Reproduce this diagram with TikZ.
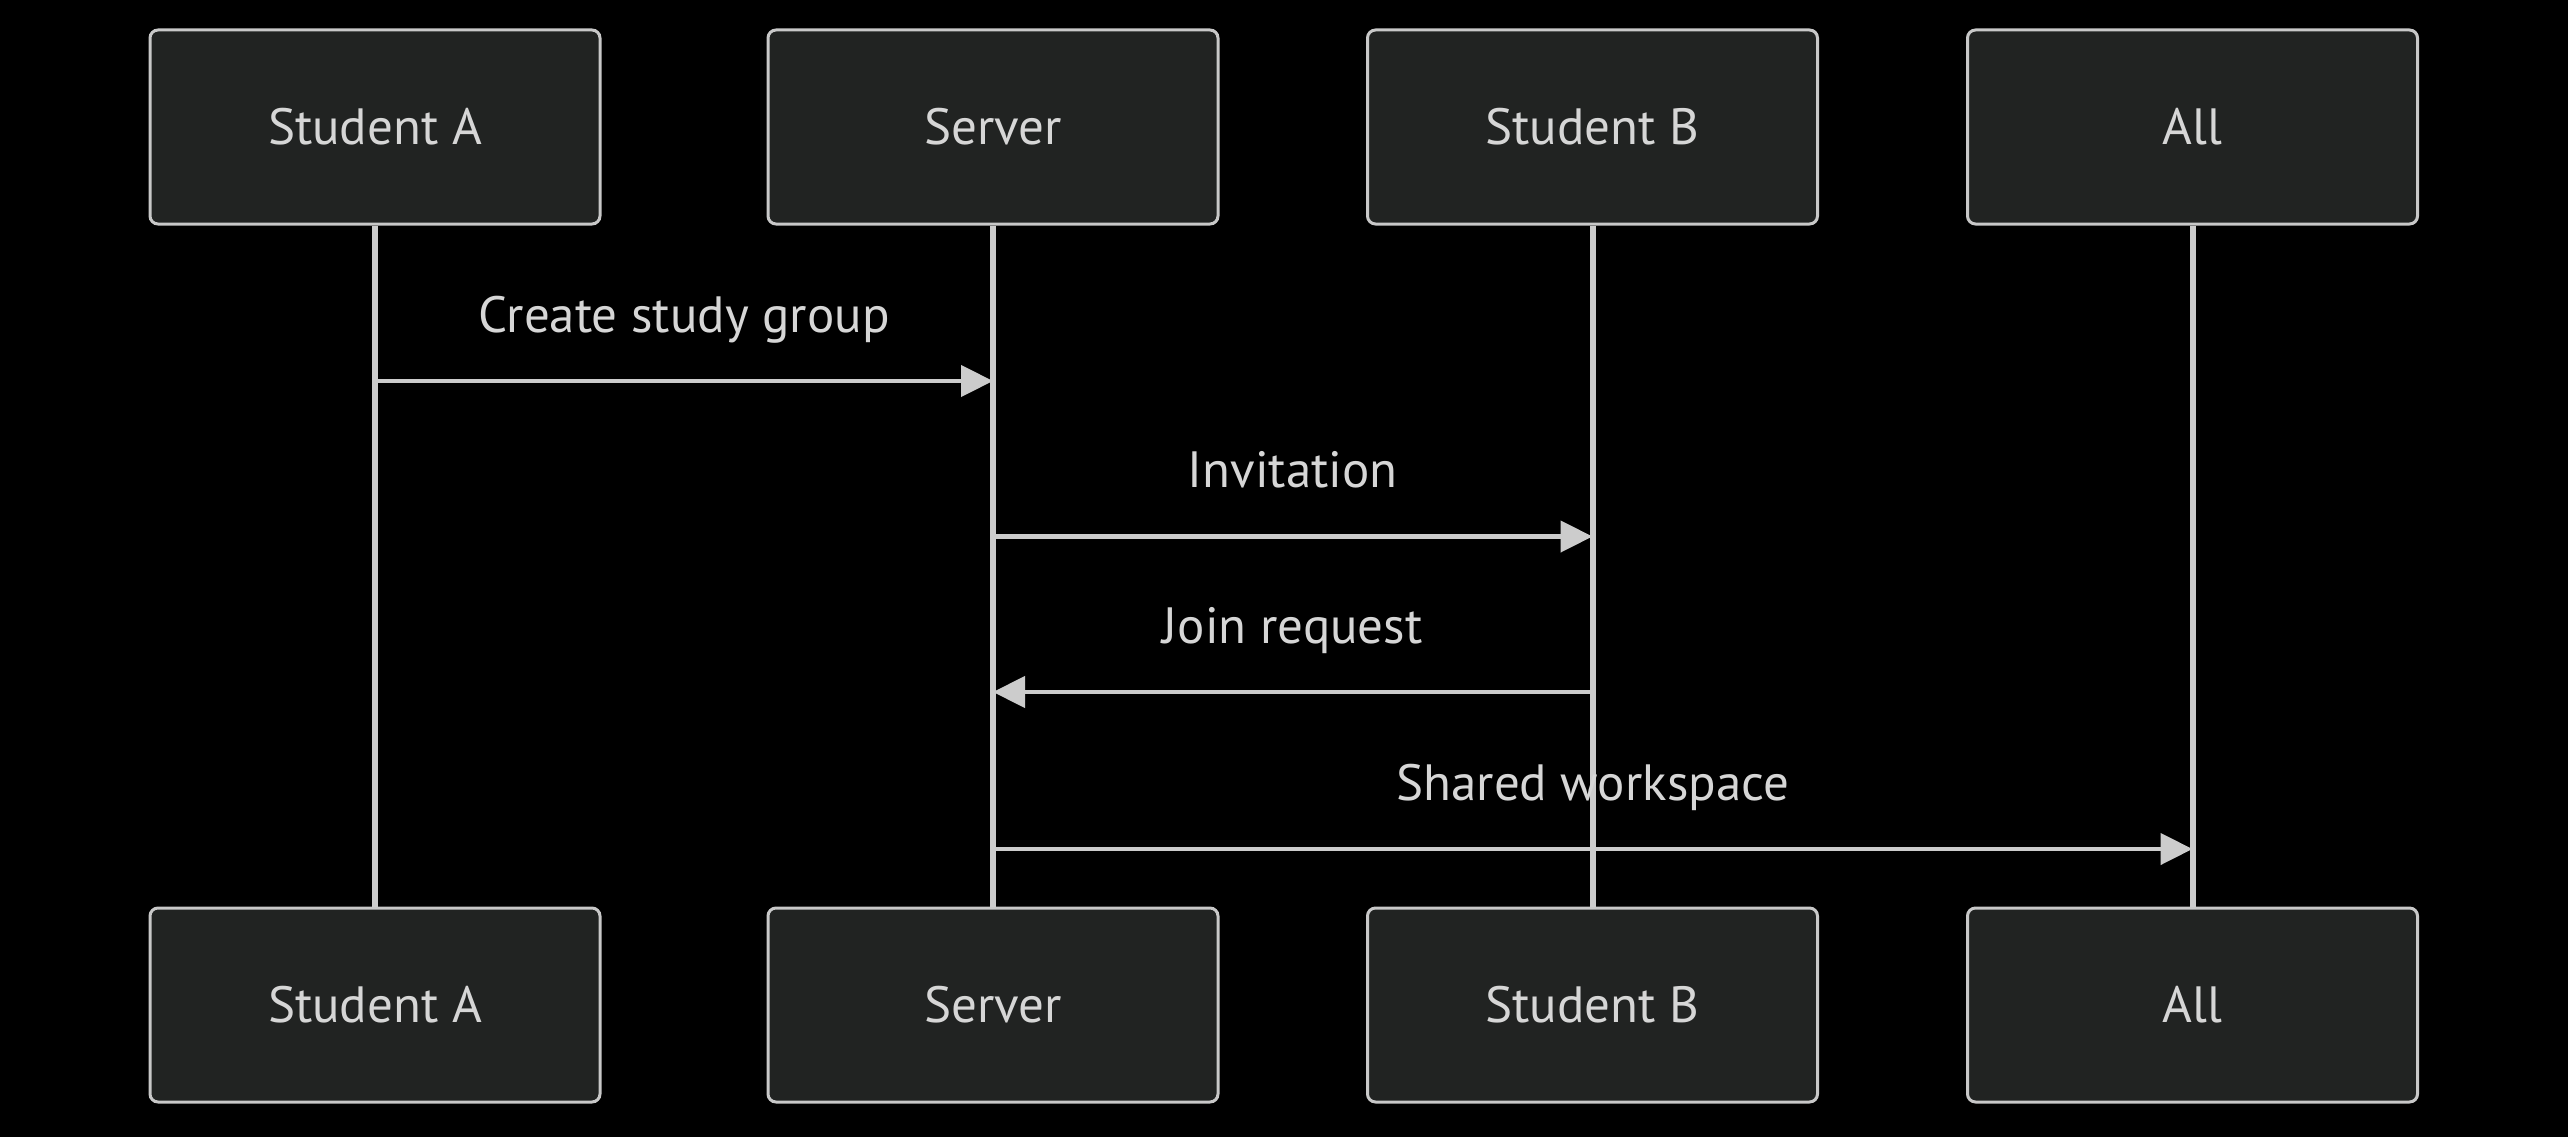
\documentclass[tikz,border=0pt]{standalone}
\usepackage{fontspec}
\setmainfont{PT Sans}
\usetikzlibrary{arrows.meta,calc}
\definecolor{bg}{HTML}{000000}
\definecolor{boxfill}{HTML}{212322}
\definecolor{boxline}{HTML}{C8C8C8}
\definecolor{txt}{HTML}{D6D6D6}
\definecolor{wire}{HTML}{CCCCCC}
\tikzset{
  actor/.style={draw=boxline, fill=boxfill, line width=3pt, rounded corners=8pt,
    minimum width=450pt, minimum height=194pt, inner sep=0pt, text=txt,
    font=\fontsize{51}{60}\selectfont},
  lifeline/.style={draw=wire, line width=6pt},
  msg/.style={draw=wire, line width=4.5pt, -{Triangle[length=32pt,width=31pt]}},
  msglabel/.style={text=txt, anchor=base, inner sep=0pt, font=\fontsize{51}{60}\selectfont}
}
\begin{document}
\begin{tikzpicture}[x=1pt,y=-1pt]
\fill[bg] (0,0) rectangle (2568,1137);
\useasboundingbox (0,0) rectangle (2568,1137);
% top actors
\node[actor] (ta) at (375,127) {Student A};
\node[actor] (ts) at (993,127) {Server};
\node[actor] (tb) at (1592.5,127) {Student B};
\node[actor] (tl) at (2192.5,127) {All};
% bottom actors
\node[actor] (ba) at (375,1005) {Student A};
\node[actor] (bs) at (993,1005) {Server};
\node[actor] (bb) at (1592.5,1005) {Student B};
\node[actor] (bl) at (2192.5,1005) {All};
% lifelines
\draw[lifeline] (ta.south) -- (ba.north);
\draw[lifeline] (ts.south) -- (bs.north);
\draw[lifeline] (tb.south) -- (bb.north);
\draw[lifeline] (tl.south) -- (bl.north);
% message endpoints
\coordinate (m1s) at (ta.south |- 0,381);
\coordinate (m1e) at (ts.south |- 0,381);
\coordinate (m2s) at (ts.south |- 0,536.5);
\coordinate (m2e) at (tb.south |- 0,536.5);
\coordinate (m3s) at (tb.south |- 0,692);
\coordinate (m3e) at (ts.south |- 0,692);
\coordinate (m4s) at (ts.south |- 0,849);
\coordinate (m4e) at (tl.south |- 0,849);
% messages
\draw[msg] (m1s) -- (m1e);
\draw[msg] (m2s) -- (m2e);
\draw[msg] (m3s) -- (m3e);
\draw[msg] (m4s) -- (m4e);
% labels
\node[msglabel] (l1) at ($(m1s)!0.5!(m1e) + (0,-49)$) {Create study group};
\node[msglabel] (l2) at ($(m2s)!0.5!(m2e) + (0,-49)$) {Invitation};
\node[msglabel] (l3) at ($(m3s)!0.5!(m3e) + (0,-49)$) {Join request};
\node[msglabel] (l4) at ($(m4s)!0.5!(m4e) + (0,-49)$) {Shared workspace};
\end{tikzpicture}
\end{document}
